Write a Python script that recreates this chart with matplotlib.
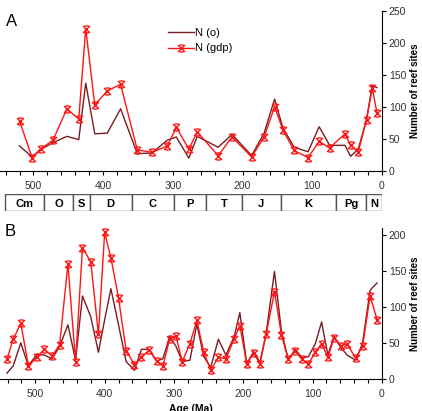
import matplotlib
matplotlib.use("Agg")
import matplotlib.pyplot as plt
from matplotlib.path import Path
from matplotlib.patches import Rectangle
from matplotlib.ticker import MultipleLocator

plt.rcParams["font.family"] = ["Liberation Sans", "DejaVu Sans"]

# panel A: reef sites per interval
age_a = [520, 502, 489, 472, 452, 435, 425, 412, 394, 375, 351, 330, 308, 295, 277, 265,
         235, 215, 187, 169, 154, 142, 126, 106, 90, 75, 53, 45, 34, 22, 14, 7]
n_o_a = [39, 22, 34, 44, 54, 49, 137, 58, 59, 97, 27, 28, 48, 53, 20, 54,
         37, 57, 24, 59, 112, 67, 37, 30, 69, 40, 40, 23, 34, 80, 133, 130]
n_gdp_a = [78, 21, 35, 48, 97, 81, 222, 103, 125, 135, 33, 29, 39, 68, 34, 61,
           24, 53, 22, 53, 100, 64, 32, 21, 46, 36, 58, 40, 30, 80, 130, 90]

# panel B: finer intervals
age_b = [541, 532, 521, 510, 498, 487, 476, 465, 453, 442, 432, 420, 409, 400, 391, 380,
         369, 357, 347, 336, 325, 316, 306, 297, 288, 277, 267, 257, 247, 236, 225, 213,
         205, 195, 185, 176, 167, 155, 145, 135, 125, 115, 106, 96, 87, 78, 69, 59,
         50, 38, 28, 17, 7]
n_o_b = [8, 18, 50, 18, 34, 33, 28, 45, 75, 26, 115, 86, 37, 82, 125, 75,
         24, 12, 41, 41, 25, 28, 59, 45, 24, 26, 76, 31, 16, 55, 33, 59,
         92, 21, 38, 23, 63, 149, 66, 27, 41, 29, 31, 49, 79, 33, 59, 43,
         33, 26, 49, 123, 133]
n_gdp_b = [27, 55, 77, 18, 30, 41, 32, 47, 159, 24, 182, 162, 62, 203, 168, 112,
           39, 20, 30, 40, 25, 18, 56, 59, 24, 49, 81, 37, 12, 30, 28, 56,
           74, 21, 36, 21, 62, 121, 61, 27, 39, 27, 21, 37, 49, 30, 57, 46,
           48, 29, 45, 115, 82]

periods = ["Cm", "O", "S", "D", "C", "P", "T", "J", "K", "Pg", "N"]
period_bounds = [541, 485, 443, 419, 359, 299, 252, 201, 145, 66, 23, 0]

DARK = "#7a1c22"
RED = "#ff1414"

# hourglass-like cross marker
marker_path = Path(
    [(-1, 1), (1, -1), (-1, -1), (1, 1), (-0.6, 1), (0.6, 1), (-0.6, -1), (0.6, -1)],
    [Path.MOVETO, Path.LINETO, Path.MOVETO, Path.LINETO,
     Path.MOVETO, Path.LINETO, Path.MOVETO, Path.LINETO],
)


def style_axis(ax, xmax, ymax, ystep):
    ax.set_xlim(xmax, 0)
    ax.set_ylim(0, ymax)
    for side in ["left", "top"]:
        ax.spines[side].set_visible(False)
    ax.spines["right"].set_position(("data", 0))
    ax.yaxis.tick_right()
    ax.yaxis.set_label_position("right")
    ax.xaxis.set_major_locator(MultipleLocator(100))
    ax.xaxis.set_minor_locator(MultipleLocator(20))
    ax.yaxis.set_major_locator(MultipleLocator(ystep))
    ax.tick_params(axis="both", which="both", direction="out", length=3, width=0.8,
                   labelsize=7.5, labelcolor="#333333", pad=4)
    ax.tick_params(axis="y", pad=2)
    ax.set_ylabel("Number of reef sites", fontsize=7, fontweight="bold", labelpad=3)
    ax.patch.set_alpha(0)


fig = plt.figure(figsize=(4.22, 4.11), dpi=100)

ax_a = fig.add_axes([0.0, 0.584, 0.905, 0.39])
ax_a.plot(age_a, n_o_a, color=DARK, lw=1.0, label="N (o)")
ax_a.plot(age_a, n_gdp_a, color=RED, lw=1.0, marker=marker_path, ms=5, mew=1.0,
          label="N (gdp)")
style_axis(ax_a, 548, 250, 50)
ax_a.legend(loc="upper left", bbox_to_anchor=(0.415, 0.955), frameon=False, fontsize=8,
            handlelength=2.3, handletextpad=0.1, labelspacing=0.5)

ax_p = fig.add_axes([0.0, 0.486, 0.905, 0.041])
ax_p.set_xlim(548, 0)
ax_p.set_ylim(0, 1)
ax_p.axis("off")
for name, left, right in zip(periods, period_bounds[:-1], period_bounds[1:]):
    ax_p.add_patch(Rectangle((right, 0), left - right, 1, facecolor="white",
                             edgecolor="#555555", lw=1.0))
    ax_p.text((left + right) / 2, 0.45, name, ha="center", va="center",
              fontsize=8, fontweight="bold")

ax_b = fig.add_axes([0.0, 0.078, 0.905, 0.367])
ax_b.plot(age_b, n_o_b, color=DARK, lw=1.0)
ax_b.plot(age_b, n_gdp_b, color=RED, lw=1.0, marker=marker_path, ms=5, mew=1.0)
style_axis(ax_b, 551, 209, 50)
ax_b.set_xlabel("Age (Ma)", fontsize=7.5, fontweight="bold", labelpad=4)

fig.text(0.015, 0.965, "A", fontsize=12, va="top")
fig.text(0.012, 0.455, "B", fontsize=12, va="top")

fig.savefig("out.png", dpi=100)
